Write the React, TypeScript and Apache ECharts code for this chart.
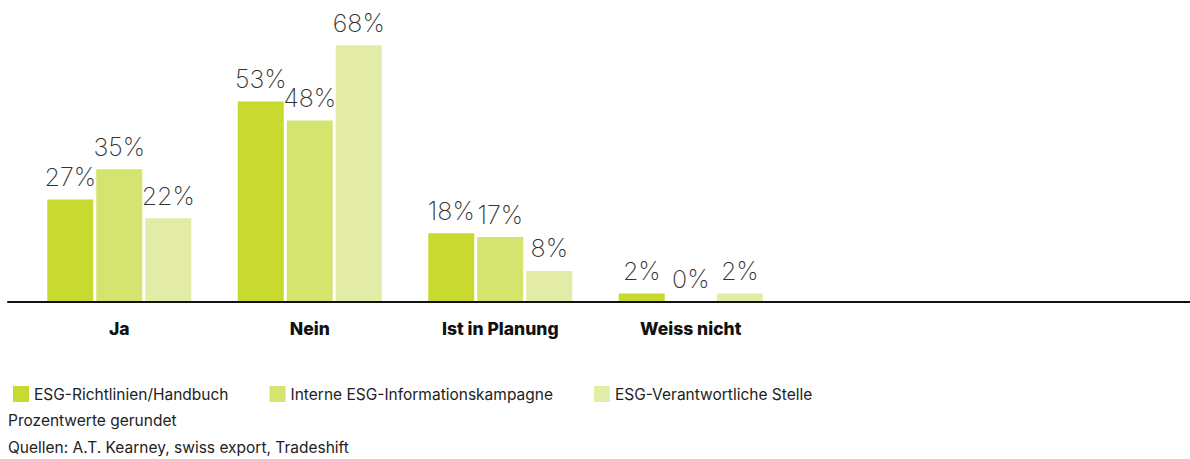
import React, { useEffect, useRef } from "react";
import * as echarts from "echarts";

const categories = ["Ja", "Nein", "Ist in Planung", "Weiss nicht", "", ""];
const seriesNames = [
  "ESG-Richtlinien/Handbuch",
  "Interne ESG-Informationskampagne",
  "ESG-Verantwortliche Stelle",
];
const richtlinien = [27, 53, 18, 2];
const kampagne = [35, 48, 17, 0];
const stelle = [22, 68, 8, 2];
const colors = ["#c8d92f", "#d5e36f", "#e2eca7"];
const notes = ["Prozentwerte gerundet", "Quellen: A.T. Kearney, swiss export, Tradeshift"];

const FONT = "Inter, 'Noto Sans', sans-serif";

export default function App() {
  const ref = useRef<HTMLDivElement>(null);
  useEffect(() => {
    document.body.style.margin = "0";
    if (!ref.current) return;
    const chart = echarts.init(ref.current, null, { renderer: "svg" });
    const dataSets = [richtlinien, kampagne, stelle];
    chart.setOption({
      animation: false,
      textStyle: { fontFamily: FONT },
      legend: {
        left: 8,
        top: 381,
        icon: "rect",
        itemWidth: 16,
        itemHeight: 16,
        itemGap: 41,
        textStyle: { fontFamily: FONT, fontSize: 15.5, color: "#222" },
        data: seriesNames,
      },
      grid: [
        { left: 24, width: 1143, top: 0, height: 301 },
        { left: 8, right: 0, top: 0, height: 302 },
      ],
      xAxis: [
        {
          type: "category",
          gridIndex: 0,
          data: categories,
          axisLine: { show: false },
          axisTick: { show: false },
          axisLabel: {
            margin: 18,
            fontFamily: FONT,
            fontSize: 17.5,
            fontWeight: 800,
            color: "#111",
          },
        },
        {
          type: "value",
          gridIndex: 1,
          min: 0,
          max: 1,
          axisLine: { show: true, lineStyle: { color: "#111", width: 2 } },
          axisTick: { show: false },
          axisLabel: { show: false },
          splitLine: { show: false },
        },
      ],
      yAxis: [
        { type: "value", gridIndex: 0, min: 0, max: 80, show: false, splitLine: { show: false } },
        { type: "value", gridIndex: 1, min: 0, max: 1, show: false, splitLine: { show: false } },
      ],
      series: dataSets.map((d, i) => ({
        name: seriesNames[i],
        type: "bar",
        xAxisIndex: 0,
        yAxisIndex: 0,
        data: d,
        barWidth: 46,
        barGap: "6.5%",
        itemStyle: { color: colors[i] },
        label: {
          show: true,
          position: "top",
          distance: 10,
          formatter: "{c}%",
          fontFamily: FONT,
          fontSize: 25,
          fontWeight: 200,
          color: "#333",
        },
      })),
      graphic: notes.map((t, i) => ({
        type: "text",
        left: 8,
        top: 412 + i * 27,
        style: { text: t, fontFamily: FONT, fontSize: 15.5, fill: "#222" },
      })),
    });
    return () => chart.dispose();
  }, []);
  return <div ref={ref} style={{ width: 1190, height: 459 }} />;
}
